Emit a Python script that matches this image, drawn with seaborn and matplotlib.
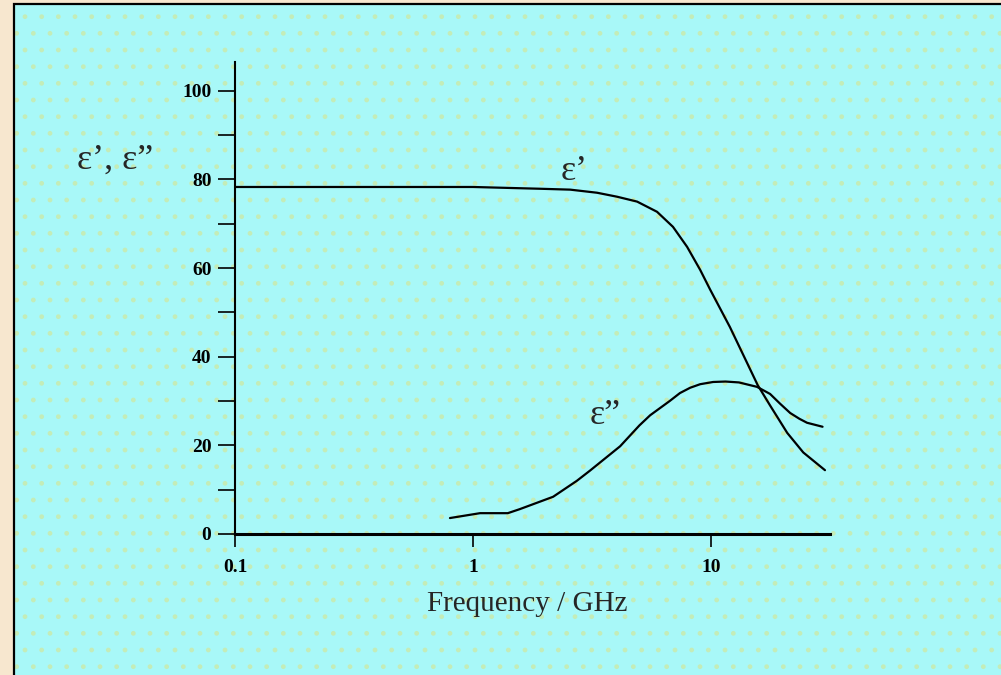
import numpy as np
import pandas as pd
import seaborn as sns
import matplotlib.pyplot as plt
from matplotlib.patches import Rectangle
from matplotlib.ticker import FixedLocator, FixedFormatter, NullLocator

# dielectric permittivity of water vs frequency
freq_real = [0.1, 0.3, 1.0, 1.91, 2.56, 3.32, 4.03, 4.89, 5.93, 6.92, 7.93, 9.0,
             9.9, 12.0, 14.2, 15.7, 17.7, 20.9, 24.4, 30.1]
eps_real = [78.3, 78.3, 78.3, 77.9, 77.7, 77.0, 76.1, 75.0, 72.7, 69.3, 64.8, 59.6,
            55.2, 46.7, 38.5, 33.6, 29.0, 22.8, 18.4, 14.4]

freq_imag = [0.80, 1.07, 1.40, 1.57, 2.17, 2.73, 3.1, 4.15, 5.0, 5.55, 6.7, 7.4,
             8.17, 9.0, 10.2, 11.5, 13.1, 15.6, 17.7, 19.5, 21.5, 23.5, 25.3, 29.4]
eps_imag = [3.6, 4.7, 4.7, 5.6, 8.4, 12.0, 14.3, 19.8, 24.5, 26.8, 30.0, 31.8,
            33.0, 33.8, 34.3, 34.4, 34.2, 33.2, 31.6, 29.4, 27.3, 26.0, 25.1, 24.2]

x_ticks = [0.1, 1, 10]
x_tick_labels = ['0.1', '1', '10']
y_major = [0, 20, 40, 60, 80, 100]
y_minor = [10, 30, 50, 70, 90]

df_real = pd.DataFrame({'freq': freq_real, 'eps': eps_real})
df_imag = pd.DataFrame({'freq': freq_imag, 'eps': eps_imag})

sns.set_style('white')
plt.rcParams['font.family'] = ['Liberation Serif', 'DejaVu Serif']

fig = plt.figure(figsize=(10.01, 6.75), dpi=100)
fig.patch.set_facecolor('#F7E7CF')

# cyan inner panel with dotted texture
panel = Rectangle((14 / 1001, -0.01), 1.0, 1 - 4 / 675 + 0.01, transform=fig.transFigure,
                  facecolor='#A8F8F8', edgecolor='#C4ECB8', hatch='.', linewidth=0, zorder=-2)
fig.patches.append(panel)
border = Rectangle((14 / 1001, -0.01), 1.0, 1 - 4 / 675 + 0.01, transform=fig.transFigure,
                   facecolor='none', edgecolor='black', linewidth=1.6, zorder=-1)
fig.patches.append(border)

ax = fig.add_axes([235 / 1001, 1 - 534 / 675, (830 - 235) / 1001, (534 - 62) / 675])
ax.set_facecolor('none')
ax.set_zorder(5)

sns.lineplot(data=df_real, x='freq', y='eps', ax=ax, color='black', linewidth=1.6, sort=False)
sns.lineplot(data=df_imag, x='freq', y='eps', ax=ax, color='black', linewidth=1.6, sort=False)

ax.set_xscale('log')
ax.set_xlim(0.1, 31.6)
ax.set_ylim(0, 106.5)

ax.xaxis.set_major_locator(FixedLocator(x_ticks))
ax.xaxis.set_major_formatter(FixedFormatter(x_tick_labels))
ax.xaxis.set_minor_locator(NullLocator())
ax.yaxis.set_major_locator(FixedLocator(y_major))
ax.yaxis.set_minor_locator(FixedLocator(y_minor))

ax.tick_params(axis='x', which='major', direction='out', length=9, width=1.2,
               pad=9, labelsize=14, colors='black', bottom=True)
ax.tick_params(axis='y', which='both', direction='out', length=12, width=1.2,
               pad=5, labelsize=14, colors='black', left=True)
for lab in ax.get_xticklabels() + ax.get_yticklabels():
    lab.set_fontweight('bold')

for side in ['top', 'right']:
    ax.spines[side].set_visible(False)
ax.spines['left'].set_linewidth(1.5)
ax.spines['bottom'].set_linewidth(2.2)
ax.spines['left'].set_color('black')
ax.spines['bottom'].set_color('black')

ax.set_xlabel('')
ax.set_ylabel('')

fig.text(527 / 1001, 1 - 604 / 675, 'Frequency / GHz', fontsize=21,
         ha='center', va='center')
fig.text(115 / 1001, 1 - 160 / 675, 'ε’, ε”', fontsize=26,
         ha='center', va='center')
fig.text(574 / 1001, 1 - 172 / 675, 'ε’', fontsize=26, ha='center', va='center')
fig.text(605 / 1001, 1 - 415 / 675, 'ε”', fontsize=26, ha='center', va='center')

fig.savefig('out.png', dpi=100, facecolor=fig.get_facecolor())
